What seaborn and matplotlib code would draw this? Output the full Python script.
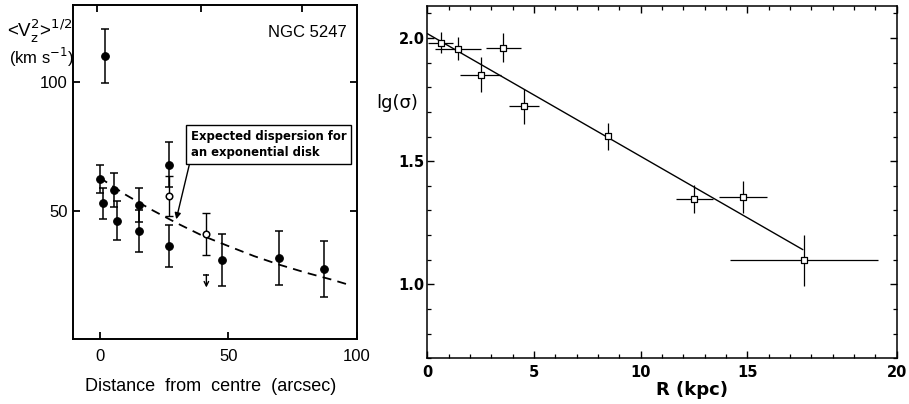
import matplotlib
matplotlib.use("Agg")
import matplotlib.pyplot as plt
import seaborn as sns
from matplotlib import font_manager
from matplotlib.font_manager import FontProperties
from matplotlib.ticker import MultipleLocator, FixedLocator

# ---- Left panel: vertical velocity dispersion of NGC 5247 ----
dist_filled = [0.0, 1.5, 2.2, 5.6, 6.9, 15.2, 15.2, 26.9, 26.9, 47.7, 69.7, 87.0]
disp_filled = [62.3, 53.0, 110.2, 58.1, 46.2, 52.3, 42.2, 68.0, 36.4, 31.0, 31.8, 27.6]
err_filled = [5.4, 6.0, 10.3, 6.7, 7.6, 6.5, 8.2, 8.7, 8.2, 10.2, 10.6, 10.9]
dist_open = [26.9, 41.5]
disp_open = [55.8, 41.1]
err_open = [7.7, 8.2]
dist_limit = [41.5]
disp_limit = [25.3]
model_dist = [0, 10, 20, 30, 40, 50, 60, 70, 80, 90, 98]
model_disp = [63.0, 56.4, 50.6, 45.3, 40.4, 36.4, 32.5, 29.1, 26.1, 23.4, 21.0]
left_xticks = [0, 50, 100]
left_yticks = [50, 100]
left_top_ticks = [-0.8, 39.6, 78.6]

# ---- Right panel: lg(sigma) against radius ----
radius = [0.63, 1.45, 2.50, 3.56, 4.54, 8.49, 12.52, 14.81, 17.66]
lg_sigma = [1.981, 1.957, 1.851, 1.961, 1.723, 1.601, 1.346, 1.354, 1.097]
radius_err = [0.60, 1.07, 0.96, 0.83, 0.69, 0.0, 0.87, 1.13, 3.48]
lg_sigma_err = [0.042, 0.046, 0.070, 0.060, 0.070, 0.055, 0.056, 0.064, 0.105]
fit_radius = [0.0, 17.6]
fit_lg_sigma = [2.018, 1.141]
right_xtick_pos = [0, 5, 10, 15, 22]
right_xtick_labels = ["0", "5", "10", "15", "20"]
right_yticks = [1.0, 1.5, 2.0]


def pick_font(*names):
    for name in names:
        try:
            font_manager.findfont(FontProperties(family=name), fallback_to_default=False)
            return name
        except ValueError:
            continue
    return "DejaVu Sans"


sns.set_theme(style="white", rc={
    "text.color": "black", "axes.labelcolor": "black",
    "xtick.color": "black", "ytick.color": "black",
    "axes.edgecolor": "black",
})
narrow = pick_font("Liberation Sans Narrow", "Liberation Sans")
plt.rcParams["font.family"] = ["DejaVu Sans"]
plt.rcParams["mathtext.fontset"] = "dejavusans"

fig = plt.figure(figsize=(9.09, 4.04), dpi=100)
fig.patch.set_facecolor("white")

W, H = 909.0, 404.0
ax1 = fig.add_axes([73 / W, (H - 339) / H, 284 / W, 334 / H])
ax2 = fig.add_axes([427.25 / W, (H - 358.3) / H, 469.5 / W, 352.3 / H])

# ----------------------------------------------------------- left panel
ax1.set_facecolor("white")
ax1.errorbar(dist_filled, disp_filled, yerr=err_filled, fmt="none",
             ecolor="black", elinewidth=1.1, capsize=3, capthick=1.1, zorder=2)
ax1.errorbar(dist_open, disp_open, yerr=err_open, fmt="none",
             ecolor="black", elinewidth=1.0, capsize=3, capthick=1.0, zorder=2)
sns.scatterplot(x=dist_filled, y=disp_filled, ax=ax1, color="black",
                edgecolor="black", s=30, linewidth=0.8, zorder=4, legend=False)
sns.scatterplot(x=dist_open, y=disp_open, ax=ax1, color="white",
                edgecolor="black", s=22, linewidth=1.1, zorder=4, legend=False)
sns.lineplot(x=model_dist, y=model_disp, ax=ax1, color="black", lw=1.3,
             dashes=False, zorder=3, sort=False)
ax1.lines[-1].set_linestyle((0, (5, 3.5)))

for xl, yl in zip(dist_limit, disp_limit):
    ax1.plot([xl], [yl], marker="_", ms=5, mew=1.1, color="black", zorder=3)
    ax1.annotate("", xy=(xl, yl - 5.0), xytext=(xl, yl),
                 arrowprops=dict(arrowstyle="->", lw=1.0, color="black",
                                 shrinkA=0, shrinkB=0, mutation_scale=8))

ax1.annotate("Expected dispersion for\nan exponential disk",
             xy=(29.8, 46.8), xytext=(35.4, 75.9),
             fontsize=8.4, fontweight="bold", family="DejaVu Sans",
             ha="left", va="center", linespacing=1.35,
             bbox=dict(boxstyle="square,pad=0.4", fc="white", ec="black", lw=1.0),
             arrowprops=dict(arrowstyle="-|>", lw=1.0, color="black",
                             shrinkA=0, shrinkB=0, mutation_scale=9,
                             relpos=(0.0, 0.0)),
             zorder=5)

ax1.text(80.8, 119.3, "NGC 5247", fontsize=12, family=narrow,
         ha="center", va="center", color="black")

ax1.set_xlim(-10.3, 100)
ax1.set_ylim(0.3, 130)
ax1.set_xticks(left_xticks)
ax1.set_yticks(left_yticks)
# tick marks along the upper edge sit at their own positions
ax1.xaxis.set_minor_locator(FixedLocator(left_top_ticks))
ax1.tick_params(axis="both", which="major", direction="in", length=5,
                width=1.3, color="black", labelsize=12, right=True,
                left=True, bottom=True)
ax1.tick_params(axis="x", which="major", top=False, bottom=True, pad=7)
ax1.tick_params(axis="x", which="minor", top=True, bottom=False,
                direction="in", length=5, width=1.3, color="black")
ax1.tick_params(axis="y", pad=4)
for lab in ax1.get_xticklabels() + ax1.get_yticklabels():
    lab.set_family(narrow)
for sp in ax1.spines.values():
    sp.set_color("black")
    sp.set_linewidth(1.4)

ax1.set_xlabel("Distance  from  centre  (arcsec)", fontsize=13, family=narrow)
ax1.xaxis.set_label_coords(0.484, -0.143)
ax1.xaxis.label.set_va("center")
fig.text(7 / W, 1 - 31 / H, r"<V$_{\rm z}^{2}$>$^{1/2}$", fontsize=13.5,
         family=narrow, ha="left", va="center")
fig.text(9 / W, 1 - 57 / H, r"(km s$^{-1}$)", fontsize=12,
         family=narrow, ha="left", va="center")

# ---------------------------------------------------------- right panel
ax2.set_facecolor("white")
sns.lineplot(x=fit_radius, y=fit_lg_sigma, ax=ax2, color="black", lw=1.0,
             zorder=2, sort=False)
ax2.errorbar(radius, lg_sigma, xerr=radius_err, yerr=lg_sigma_err, fmt="none",
             ecolor="black", elinewidth=0.9, capsize=0, zorder=3)
sns.scatterplot(x=radius, y=lg_sigma, ax=ax2, marker="s", color="white",
                edgecolor="black", s=14, linewidth=0.9, zorder=4, legend=False)

ax2.set_xlim(0, 22)
ax2.set_ylim(0.7, 2.13)
ax2.xaxis.set_major_locator(FixedLocator(right_xtick_pos))
ax2.set_xticklabels(right_xtick_labels)
ax2.xaxis.set_minor_locator(MultipleLocator(1))
ax2.set_yticks(right_yticks)
ax2.yaxis.set_minor_locator(MultipleLocator(0.1))
ax2.tick_params(axis="both", which="major", direction="in", length=5,
                width=1.0, color="black", top=True, right=True, bottom=True,
                left=True, labelsize=10.5)
ax2.tick_params(axis="both", which="minor", direction="in", length=3,
                width=0.9, color="black", top=True, right=True, bottom=True,
                left=True)
ax2.tick_params(axis="x", pad=5)
ax2.tick_params(axis="y", pad=2)
for lab in ax2.get_xticklabels() + ax2.get_yticklabels():
    lab.set_fontweight("bold")
for sp in ax2.spines.values():
    sp.set_color("black")
    sp.set_linewidth(1.1)

ax2.set_xlabel("R (kpc)", fontsize=13, fontweight="bold")
ax2.xaxis.set_label_coords(0.564, -0.09)
ax2.xaxis.label.set_va("center")
ax2.set_ylabel("lg(σ)", fontsize=13, rotation=0, ha="left", va="center")
ax2.yaxis.set_label_coords(-0.109, 0.725)

fig.savefig("out.png", dpi=100, facecolor="white")
